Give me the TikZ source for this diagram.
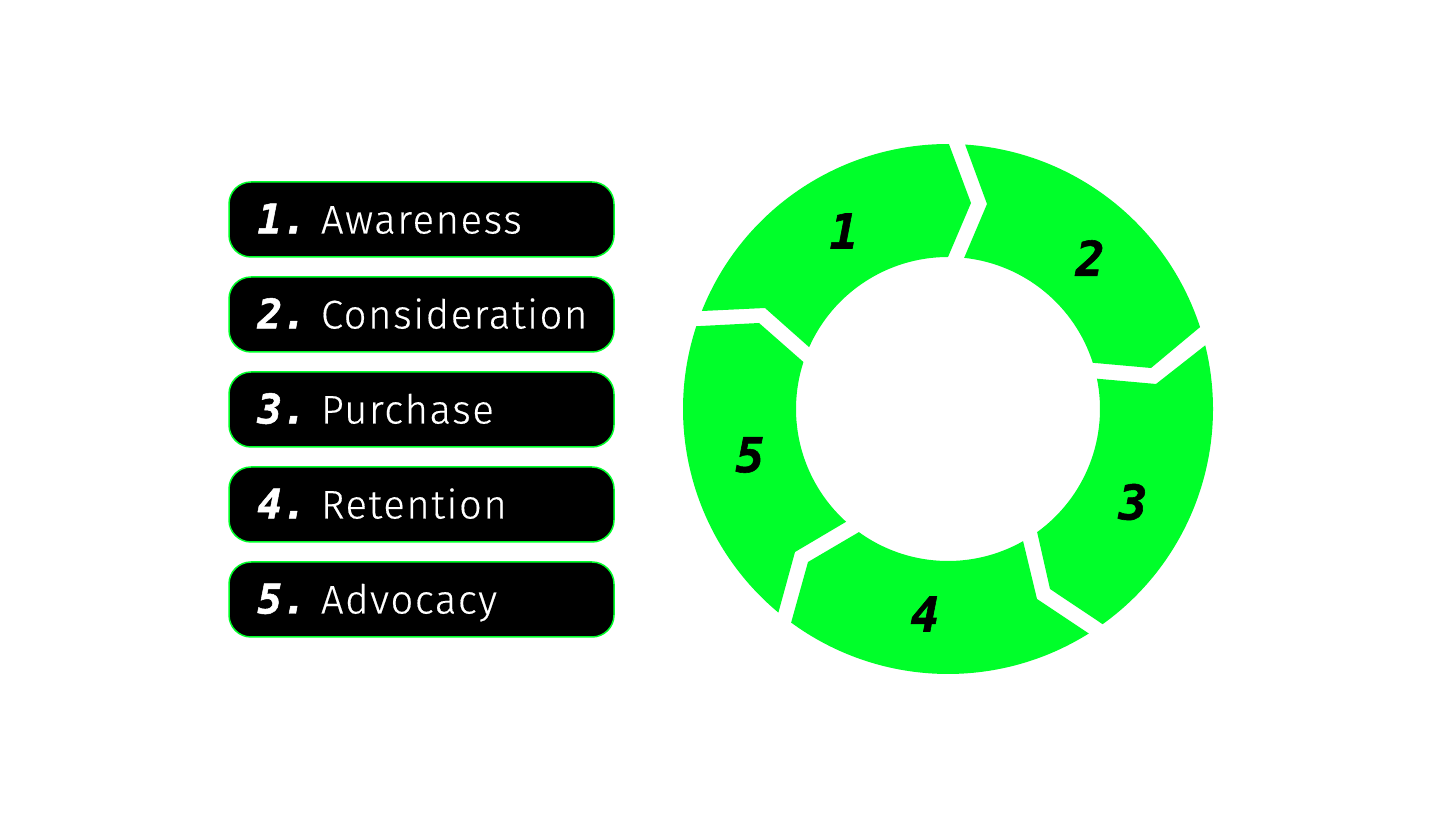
\documentclass[tikz,border=0pt]{standalone}
\usepackage{fontspec}
\usetikzlibrary{calc}
\setmainfont{Fira Sans Light}[LetterSpace=4,FakeBold=0.4]
\newfontfamily\numfont{DejaVu Sans Mono}[BoldItalicFont={DejaVu Sans Mono Bold Oblique},BoldItalicFeatures={FakeBold=1.2}]
\definecolor{neon}{HTML}{00FF2A}
\tikzset{
  x=1pt,y=1pt,
  pill/.style={draw=neon,line width=1.5pt,fill=black,rounded corners=22pt,minimum width=385pt,minimum height=75pt,inner sep=0pt},
  pilltext/.style={text=white,anchor=base west,inner sep=0pt,font=\fontsize{40}{40}\selectfont},
  pillnum/.style={text=white,anchor=base west,inner sep=0pt,font=\fontsize{41}{41}\selectfont\numfont\bfseries\itshape},
  segnum/.style={text=black,inner sep=0pt,font=\fontsize{48}{48}\selectfont\numfont\bfseries\itshape},
  seg/.style={fill=neon,draw=none}
}
\newcommand{\pillrow}[3]{%
  \node[pill] (p#1) at (421.5,#2) {};
  \node[pillnum] (n#1) at ([xshift=29pt,yshift=-14pt]p#1.west) {#1.};
  \node[pilltext] (t#1) at ([xshift=92.5pt,yshift=-14pt]p#1.west) {#3};
}
\begin{document}
\begin{tikzpicture}
\useasboundingbox (0,0) rectangle (1456,819);
\pillrow{1}{599.5}{Awareness}
\pillrow{2}{504.5}{Consideration}
\pillrow{3}{409.5}{Purchase}
\pillrow{4}{314.5}{Retention}
\pillrow{5}{219.5}{Advocacy}
\coordinate (c) at (948,410);
% segment 1
\fill[seg] ($(c)+(158.3:265)$) arc[start angle=158.3,end angle=89.8,radius=265pt] -- (971,616) -- ($(c)+(90:152)$) arc[start angle=90,end angle=156,radius=152pt] -- (765,511) -- cycle;
% segment 2
\fill[seg] ($(c)+(86.3:265)$) arc[start angle=86.3,end angle=18,radius=265pt] -- (1151,451) -- ($(c)+(17.7:152)$) arc[start angle=17.7,end angle=83.9,radius=152pt] -- (987,615) -- cycle;
% segment 3
\fill[seg] ($(c)+(13.9:265)$) arc[start angle=13.9,end angle=-54.3,radius=265pt] -- (1050,230) -- ($(c)+(-54.1:152)$) arc[start angle=-54.1,end angle=11.5,radius=152pt] -- (1156,435) -- cycle;
% segment 4
\fill[seg] ($(c)+(-57.9:265)$) arc[start angle=-57.9,end angle=-126.3,radius=265pt] -- (808,257) -- ($(c)+(-125.9:152)$) arc[start angle=-125.9,end angle=-60.4,radius=152pt] -- (1037,220) -- cycle;
% segment 5
\fill[seg] ($(c)+(230.2:265)$) arc[start angle=230.2,end angle=161.8,radius=265pt] -- (759,496) -- ($(c)+(162:152)$) arc[start angle=162,end angle=227.9,radius=152pt] -- (795,267) -- cycle;
\node[segnum] (s1) at (844,588) {1};
\node[segnum] (s2) at (1090,561) {2};
\node[segnum] (s3) at (1133,317) {3};
\node[segnum] (s4) at (925,205) {4};
\node[segnum] (s5) at (750,364) {5};
\end{tikzpicture}
\end{document}
